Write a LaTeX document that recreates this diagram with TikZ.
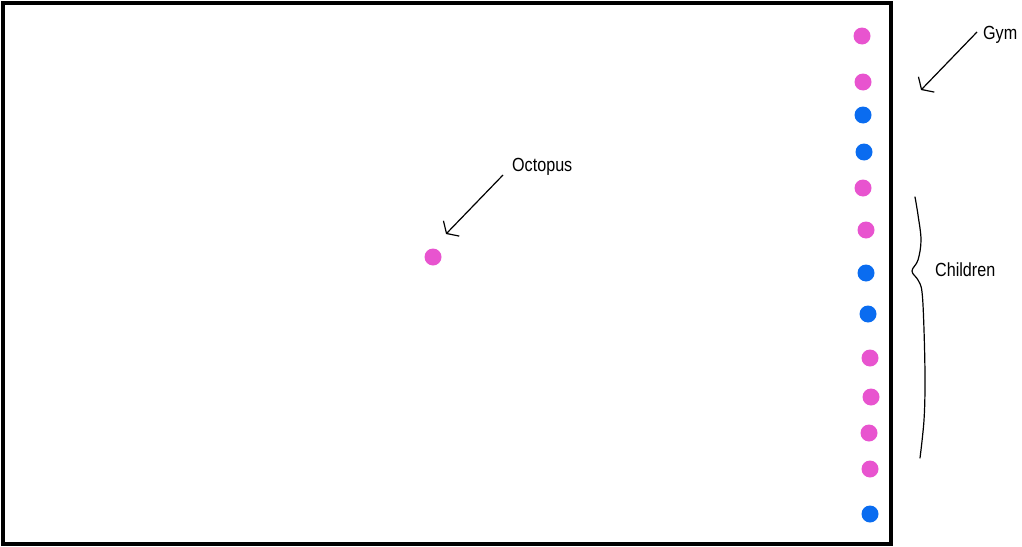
\documentclass[tikz,border=0pt]{standalone}
\usepackage{fontspec}
\setmainfont{Liberation Sans}
\usetikzlibrary{arrows.meta}
\definecolor{pinkdot}{RGB}{232,84,207}
\definecolor{bluedot}{RGB}{10,108,240}
\tikzset{
  dotp/.style={circle,fill=pinkdot,inner sep=0pt,minimum size=17pt},
  dotb/.style={circle,fill=bluedot,inner sep=0pt,minimum size=17pt},
  hand/.style={font=\fontsize{19}{19}\selectfont,inner sep=0pt,xscale=0.85},
  pointer/.style={line width=1.2pt,-{Straight Barb[length=7pt,width=22pt,line width=1.2pt]}}
}
\begin{document}
\begin{tikzpicture}[x=1pt,y=-1pt]
\useasboundingbox (0,0) rectangle (1022,546);
\draw[line width=4pt] (3,3) rectangle (891,544);
% children column
\node[dotp] (d1) at (862,36) {};
\node[dotp] (d2) at (863,82) {};
\node[dotb] (d3) at (863,115) {};
\node[dotb] (d4) at (864,152) {};
\node[dotp] (d5) at (863,188) {};
\node[dotp] (d6) at (866,230) {};
\node[dotb] (d7) at (866,273) {};
\node[dotb] (d8) at (868,314) {};
\node[dotp] (d9) at (870,358) {};
\node[dotp] (d10) at (871,397) {};
\node[dotp] (d11) at (869,433) {};
\node[dotp] (d12) at (870,469) {};
\node[dotb] (d13) at (870,514) {};
% octopus
\node[dotp] (oct) at (433,257) {};
\node[hand,anchor=west] (octl) at (512,167) {Octopus};
\coordinate (octs) at (503,175);
\coordinate (octt) at (446,234);
\draw[pointer] (octs) -- (octt);
% gym
\node[hand,anchor=west] (gyml) at (983,35) {Gym};
\coordinate (gyms) at (977,32);
\coordinate (gymt) at (921,90);
\draw[pointer] (gyms) -- (gymt);
% brace
\draw[line width=1.2pt,line cap=round] plot[smooth,tension=0.6] coordinates {(915,197) (918,215) (921,240) (918,260) (912,271) (918,280) (922,292) (924,330) (925,380) (924,420) (920,458)};
\node[hand,anchor=west] (chl) at (935,270) {Children};
\end{tikzpicture}
\end{document}
